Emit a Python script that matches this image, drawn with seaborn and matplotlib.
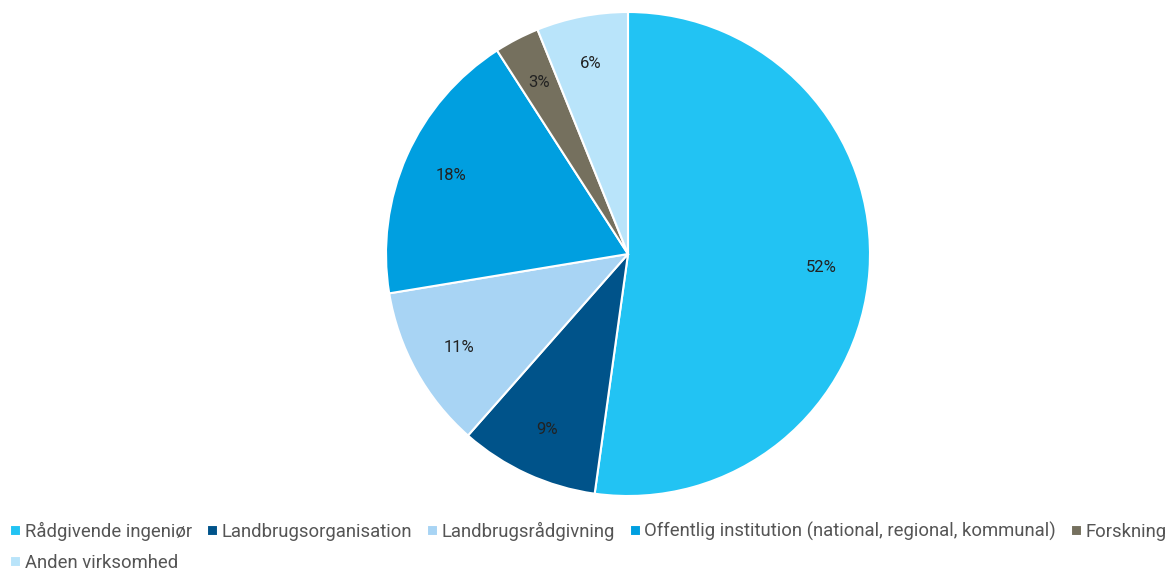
import seaborn as sns
import matplotlib.pyplot as plt

# Data
categories = ['Rådgivende ingeniør', 'Landbrugsorganisation', 'Landbrugsrådgivning',
              'Offentlig institution (national, regional, kommunal)', 'Forskning',
              'Anden virksomhed']
shares = [52.2, 9.3, 10.9, 18.5, 3.0, 6.1]
colors = ['#22c3f3', '#00538a', '#a8d4f4', '#009fe0', '#75705e', '#b9e4fa']

sns.set_theme(style='white')
plt.rcParams['font.family'] = ['Roboto', 'DejaVu Sans']

fig = plt.figure(figsize=(11.73, 5.72), dpi=100)
W, H = 1173, 572
cx, cy, r = 628, 254, 242
ax = fig.add_axes([(cx - r) / W, (H - cy - r) / H, 2 * r / W, 2 * r / H])

wedges, texts, autotexts = ax.pie(
    shares, colors=colors, startangle=90, counterclock=False,
    autopct='%1.0f%%', pctdistance=0.8,
    wedgeprops=dict(edgecolor='white', linewidth=1.5),
    textprops=dict(color='#222222', fontsize=12))
ax.set_xlim(-1, 1)
ax.set_ylim(-1, 1)
ax.set_aspect('equal')
ax.axis('off')

# reorder so the last item wraps under the first one
order = [0, 5, 1, 2, 3, 4]
fig.legend([wedges[i] for i in order], [categories[i] for i in order],
           ncol=5, loc='upper left', bbox_to_anchor=(10 / W, 1 - 522 / H),
           frameon=False, fontsize=13.3, labelcolor='#555555',
           handlelength=0.6, handleheight=0.6, handletextpad=0.2,
           columnspacing=0.8, labelspacing=0.7, borderpad=0, borderaxespad=0)

fig.savefig('out.png', dpi=100)
